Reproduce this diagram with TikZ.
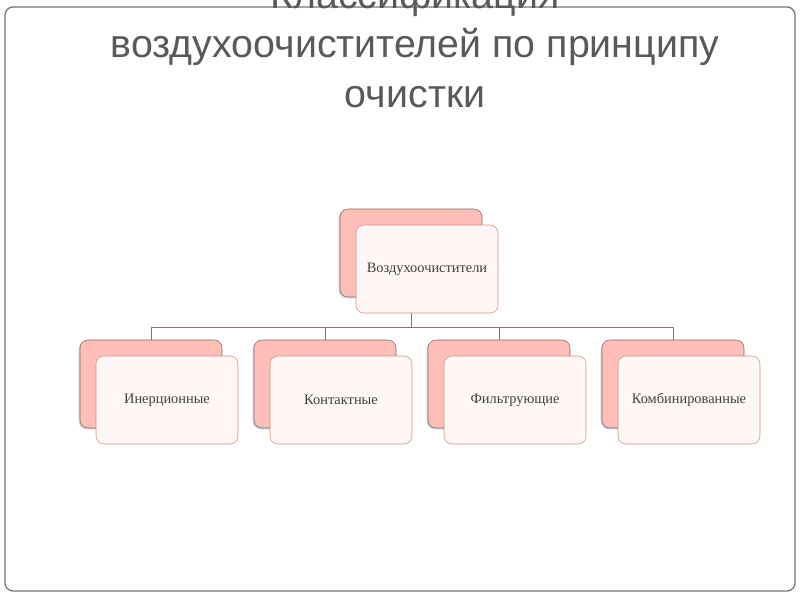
\documentclass[tikz,border=0pt]{standalone}
\usepackage{fontspec}
\setmainfont{Liberation Serif}
\newfontfamily\titlefont{Liberation Sans}
\usetikzlibrary{positioning, shadows}

\definecolor{titlegray}{RGB}{89,89,89}
\definecolor{framegray}{RGB}{120,120,120}
\definecolor{backfill}{RGB}{255,190,184}
\definecolor{backedge}{RGB}{125,105,105}
\definecolor{frontfill}{RGB}{255,247,245}
\definecolor{frontedge}{RGB}{214,140,122}
\definecolor{linkcol}{RGB}{140,112,112}

\begin{document}
\begin{tikzpicture}[x=0.75pt, y=-0.75pt, line cap=round, line join=round,
    backbox/.style={draw=backedge, fill=backfill, rounded corners=6pt,
        minimum width=106.5pt, minimum height=66pt, inner sep=0pt,
        drop shadow={shadow xshift=-1pt, shadow yshift=-1pt, opacity=0.35}},
    frontbox/.style={draw=frontedge, fill=frontfill, rounded corners=6pt,
        minimum width=106.5pt, minimum height=66pt, inner sep=0pt,
        text=black!75, font=\fontsize{10.8}{12}\selectfont},
    link/.style={draw=linkcol, line width=0.6pt}]

    \useasboundingbox (0,0) rectangle (800,600);

    % Frame
    \draw[framegray, line width=1pt, rounded corners=6pt] (5,7) rectangle (795,591);

    % Title
    \node[titlegray, align=center, anchor=base, font=\titlefont\fontsize{29.5}{37.1}\selectfont]
        (title) at (415,107) {Классификация\\воздухоочистителей по принципу\\очистки};

    % Root
    \node[backbox] (root-bg) at (411,253) {};
    \coordinate (bus) at (411,327);
    \draw[link] (root-bg.south) -- (bus);
    \node[frontbox] (root) at ([shift={(16,16)}]root-bg.center) {Воздухоочистители};

    % Kinds of cleaning
    \foreach \x/\nm/\txt in {
        151/inert/Инерционные,
        325/cont/Контактные,
        499/filt/Фильтрующие,
        673/comb/Комбинированные
    }{
        \node[backbox] (\nm-bg) at (\x,384) {};
        \node[frontbox] (\nm) at ([shift={(16,16)}]\nm-bg.center) {\txt};
        \draw[link] (bus) -| (\nm-bg.north);
    }

\end{tikzpicture}
\end{document}
